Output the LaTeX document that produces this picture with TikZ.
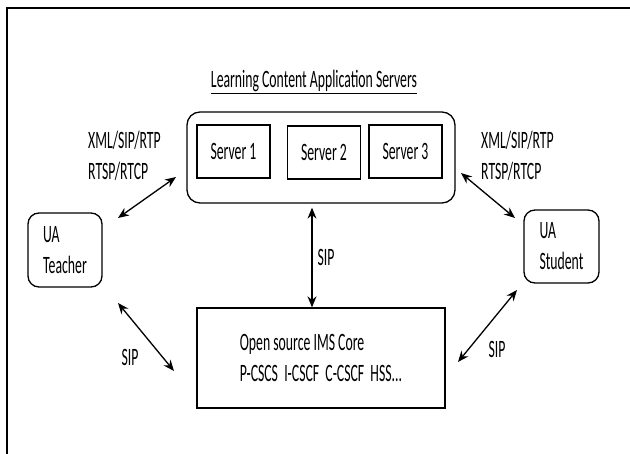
\documentclass[tikz,border=0pt]{standalone}
\usepackage{fontspec}
\setmainfont{Carlito}[FakeStretch=0.55]
\usetikzlibrary{arrows.meta,positioning,calc}

\tikzset{
  box/.style={draw, line width=1.3pt, inner sep=0pt},
  server/.style={box, minimum width=73pt, minimum height=53pt},
  agent/.style={box, rounded corners=11pt, minimum width=74pt, minimum height=74pt, align=left},
  proto/.style={align=left, inner sep=0pt},
  link/.style={<->, line width=1.3pt},
}

\begin{document}
\begin{tikzpicture}[x=1pt, y=-1pt, >={Stealth[length=11pt,width=9pt]},
    every node/.style={font=\fontsize{25}{31}\selectfont, inner sep=1pt}]
    \useasboundingbox (0,0) rectangle (630,454);
    % frame
    \draw[line width=1.3pt] (630,8) -- (7,8) -- (7,454);

    % application servers
    \node[anchor=base]                  (title)   at (314,88)      {\underline{Learning Content Application Servers}};
    \node[box, rounded corners=13pt, minimum width=268pt, minimum height=91pt] (apps) at (321,157.5) {};
    \node[server]                       (srv1)    at (233.5,151.5) {Server 1};
    \node[server]                       (srv2)    at (324,152.5)   {Server 2};
    \node[server]                       (srv3)    at (405.5,151.5) {Server 3};

    % user agents and core
    \node[agent]                        (teacher) at (65,250)      {UA\\Teacher};
    \node[agent, minimum width=75pt, minimum height=73pt] (student) at (561.5,246.5) {UA\\Student};
    \node[box, minimum width=248pt, minimum height=100pt, align=left] (ims) at (321,358)
        {Open source IMS Core\\P-CSCS\ \ I-CSCF\ \ C-CSCF\ \ HSS...};

    % protocol labels
    \node[proto, anchor=west]           (protoL)  at (88,156)      {XML/SIP/RTP\\RTSP/RTCP};
    \node[proto, anchor=west]           (protoR)  at (481,156)     {XML/SIP/RTP\\RTSP/RTCP};
    \node                               (sipL)    at (130,357)     {SIP};
    \node                               (sipR)    at (497,349)     {SIP};

    % arrow ends
    \coordinate (tTop) at (118,218);
    \coordinate (aLeft) at (176,177);
    \coordinate (tBot) at (118,303);
    \coordinate (iLeft) at (174,371);
    \coordinate (aRight) at (461,173);
    \coordinate (sTop) at (515,218);
    \coordinate (sBot) at (517,290);
    \coordinate (iRight) at (458,362);

    \draw[link] (tTop) -- (aLeft);
    \draw[link] (tBot) -- (iLeft);
    \draw[link] (aRight) -- (sTop);
    \draw[link] (sBot) -- (iRight);
    \draw[link] ([xshift=-9pt,yshift=-4pt]apps.south) -- ([xshift=-9pt]ims.north)
        node[midway, right=4pt] (sipV) {SIP};
\end{tikzpicture}
\end{document}
